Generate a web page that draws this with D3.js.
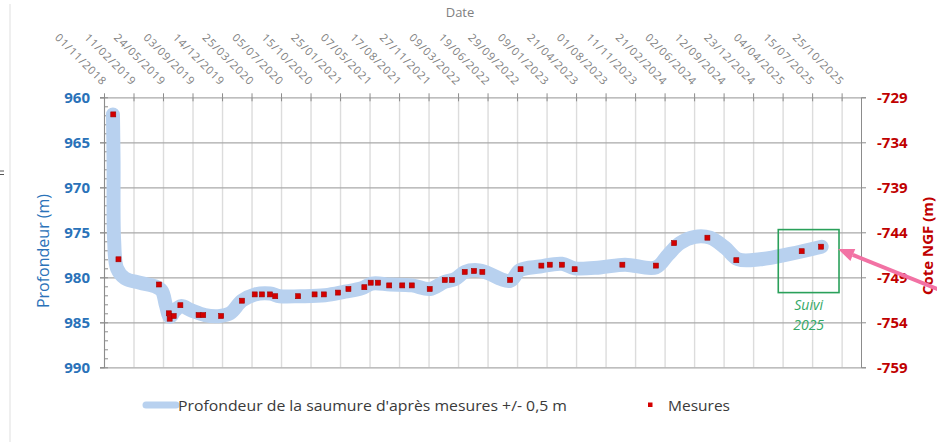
<!DOCTYPE html>
<html><head><meta charset="utf-8">
<script src="https://cdn.jsdelivr.net/npm/d3@7"></script>
<style>body{margin:0;background:#fff}svg{display:block}</style>
</head><body>
<svg id="chart" width="937" height="442"></svg>
<script>
// ---------- DATA ----------
const tickLabels = ["01/11/2018","11/02/2019","24/05/2019","03/09/2019","14/12/2019","25/03/2020","05/07/2020","15/10/2020","25/01/2021","07/05/2021","17/08/2021","27/11/2021","09/03/2022","19/06/2022","29/09/2022","09/01/2023","21/04/2023","01/08/2023","11/11/2023","21/02/2024","02/06/2024","12/09/2024","23/12/2024","04/04/2025","15/07/2025","25/10/2025"];
const leftTicks = [960,965,970,975,980,985,990];
const rightTicks = [-729,-734,-739,-744,-749,-754,-759];

const measureDates = ["2018-12-03","2018-12-21","2019-05-10","2019-06-13","2019-06-16","2019-06-30","2019-07-23","2019-09-24","2019-10-10","2019-12-11","2020-02-21","2020-04-05","2020-04-30","2020-05-28","2020-06-15","2020-09-02","2020-10-29","2020-11-30","2021-01-18","2021-02-23","2021-04-19","2021-05-11","2021-06-05","2021-07-14","2021-08-28","2021-09-30","2021-12-01","2022-01-22","2022-02-16","2022-04-01","2022-05-03","2022-06-01","2022-09-05","2022-10-11","2022-12-22","2023-01-20","2023-03-03","2023-04-16","2023-09-28","2024-01-22","2024-03-25","2024-07-18","2024-10-26","2025-06-09","2025-08-15"];
const measureDepths = [961.9,978.0,980.8,984.0,984.6,984.3,983.1,984.2,984.2,984.3,982.6,981.9,981.9,981.9,982.1,982.1,981.9,981.9,981.7,981.3,981.1,980.6,980.6,980.9,980.9,980.9,981.3,980.3,980.3,979.4,979.3,979.4,980.3,979.1,978.7,978.6,978.6,979.1,978.6,978.7,976.2,975.6,978.1,977.1,976.6];

const bandDates = ["2018-12-02","2018-12-04","2018-12-06","2018-12-16","2019-01-12","2019-03-05","2019-04-26","2019-05-20","2019-06-03","2019-06-17","2019-07-04","2019-07-25","2019-09-01","2019-10-16","2019-12-07","2020-01-11","2020-02-21","2020-04-06","2020-05-28","2020-07-01","2020-09-09","2020-12-04","2021-02-11","2021-04-11","2021-05-15","2021-07-17","2021-10-01","2021-12-02","2022-01-23","2022-02-26","2022-04-02","2022-05-07","2022-06-10","2022-09-05","2022-10-09","2022-12-17","2023-03-03","2023-04-17","2023-07-13","2023-10-07","2024-01-22","2024-03-04","2024-04-14","2024-06-05","2024-07-27","2024-09-17","2024-11-01","2025-01-16","2025-04-30","2025-08-17"];
const bandDepths = [961.9,967.0,975.9,979.0,980.1,980.6,981.0,981.5,983.1,984.4,983.7,983.2,983.7,984.2,984.3,984.0,982.6,981.9,981.8,982.1,982.1,982.0,981.6,981.2,980.7,980.8,980.9,981.3,980.5,980.2,979.4,979.2,979.4,980.4,979.2,978.8,978.5,979.0,978.9,978.6,978.9,977.5,976.2,975.5,975.6,976.7,978.0,978.0,977.4,976.6];

// annotation box (Suivi 2025)
const boxDates = ["2025-03-20","2025-10-16"];
const boxDepths = [974.7, 981.7];

// ---------- SETUP ----------
const svg = d3.select("#chart");
const W = 937, H = 442;
const L = 104, R = 861, T = 97.3, B = 367.3;
const parseTick = d3.timeParse("%d/%m/%Y");
const parseIso = d3.timeParse("%Y-%m-%d");
const tickDates = tickLabels.map(parseTick);

const x = d3.scaleTime().domain([parseIso("2018-11-01"), parseIso("2025-12-31")]).range([L, R]);
const yL = d3.scaleLinear().domain([960, 990]).range([T, B]);
const yR = d3.scaleLinear().domain([-729, -759]).range([T, B]);

const FONT = "'Open Sans', 'Liberation Sans', sans-serif";
const BLUE = "#2a72b9", RED = "#c00000", GRAY = "#7f7f7f";

// left decorative border
svg.append("line").attr("x1",10).attr("x2",10).attr("y1",4).attr("y2",H).attr("stroke","#e4e4e4").attr("stroke-width",1.2);
svg.append("line").attr("x1",0).attr("x2",4).attr("y1",171).attr("y2",171).attr("stroke","#555").attr("stroke-width",1);
svg.append("line").attr("x1",0).attr("x2",4).attr("y1",174.5).attr("y2",174.5).attr("stroke","#555").attr("stroke-width",1);

// vertical gridlines
const vg = svg.append("g").attr("transform",`translate(0,${T})`)
  .call(d3.axisBottom(x).tickValues(tickDates).tickSize(B - T).tickFormat(""));
vg.select(".domain").remove();
vg.selectAll(".tick line").attr("stroke","#dcdcdc").attr("stroke-width",1.4);

// horizontal gridlines
const hg = svg.append("g").attr("transform",`translate(${R},0)`)
  .call(d3.axisLeft(yL).tickValues(leftTicks).tickSize(R - L + 4).tickFormat(""));
hg.select(".domain").remove();
hg.selectAll(".tick line").attr("stroke","#a9a9a9").attr("stroke-width",1.2);

// top date axis ticks (crossing)
const ta = svg.append("g").attr("transform",`translate(0,${T})`)
  .call(d3.axisTop(x).tickValues(tickDates).tickSize(4).tickFormat(""));
ta.select(".domain").remove();
ta.selectAll(".tick line").attr("stroke","#8c8c8c").attr("y2",-4);
ta.selectAll(".tick").append("line").attr("y1",0).attr("y2",4).attr("stroke","#8c8c8c");

// date labels rotated
svg.append("g").selectAll("text").data(tickDates).join("text")
  .attr("transform", d => `translate(${x(d)-2},86) rotate(45)`)
  .attr("text-anchor","end")
  .attr("font-family",FONT).attr("font-size",11).attr("letter-spacing",0.9).attr("fill",GRAY)
  .text((d,i) => tickLabels[i]);

svg.append("text").attr("x",460).attr("y",17).attr("text-anchor","middle")
  .attr("font-family",FONT).attr("font-size",13).attr("fill",GRAY).text("Date");

// left axis
const la = svg.append("g").attr("transform",`translate(${L},0)`)
  .call(d3.axisLeft(yL).tickValues(leftTicks).tickSize(4).tickPadding(10).tickFormat(d => String(d)));
la.select(".domain").attr("stroke","#8c8c8c");
la.selectAll(".tick line").attr("stroke","#8c8c8c");
la.selectAll(".tick text").attr("font-family",FONT).attr("font-size",15).attr("font-weight","bold").attr("fill",BLUE);
// minor ticks (inside)
const lm = svg.append("g").attr("transform",`translate(${L},0)`)
  .call(d3.axisRight(yL).tickValues(d3.range(960, 991, 1)).tickSize(4).tickFormat(""));
lm.select(".domain").remove();
lm.selectAll(".tick line").attr("stroke","#8c8c8c");

svg.append("text").attr("transform","translate(49,251) rotate(-90)").attr("text-anchor","middle")
  .attr("font-family",FONT).attr("font-size",16).attr("fill",BLUE).text("Profondeur (m)");

// right axis
const ra = svg.append("g").attr("transform",`translate(${R},0)`)
  .call(d3.axisRight(yR).tickValues(rightTicks).tickSize(5).tickPadding(11).tickFormat(d => String(d)));
ra.select(".domain").attr("stroke","#8c8c8c");
ra.selectAll(".tick line").attr("stroke","#8c8c8c");
ra.selectAll(".tick text").attr("font-family",FONT).attr("font-size",15).attr("font-weight","bold").attr("fill",RED);

svg.append("text").attr("transform","translate(933,246) rotate(-90)").attr("text-anchor","middle")
  .attr("font-family",FONT).attr("font-size",15).attr("font-weight","bold").attr("fill",RED).text("Cote NGF (m)");

// band
const band = bandDates.map((d,i) => ({date: parseIso(d), depth: bandDepths[i]}));
const line = d3.line().x(d => x(d.date)).y(d => yL(d.depth)).curve(d3.curveCatmullRom.alpha(0.5));
svg.append("path").datum(band).attr("d", line)
  .attr("fill","none").attr("stroke","#b8d1ef").attr("stroke-width",14)
  .attr("stroke-linecap","round").attr("stroke-linejoin","round");

// measurements
const meas = measureDates.map((d,i) => ({date: parseIso(d), depth: measureDepths[i]}));
svg.append("g").selectAll("rect").data(meas).join("rect")
  .attr("x", d => x(d.date) - 2.5).attr("y", d => yL(d.depth) - 2.5)
  .attr("width",5).attr("height",5)
  .attr("fill","#d40000").attr("stroke","#a00000").attr("stroke-width",0.6);

// annotation box
const bx0 = x(parseIso(boxDates[0])), bx1 = x(parseIso(boxDates[1]));
const by0 = yL(boxDepths[0]), by1 = yL(boxDepths[1]);
svg.append("rect").attr("x",bx0).attr("y",by0).attr("width",bx1-bx0).attr("height",by1-by0)
  .attr("fill","none").attr("stroke","#2aa05a").attr("stroke-width",1.6);
svg.append("text").attr("x",(bx0+bx1)/2).attr("y",310).attr("text-anchor","middle")
  .attr("font-family",FONT).attr("font-size",14).attr("font-style","italic").attr("fill","#33a865").text("Suivi");
svg.append("text").attr("x",(bx0+bx1)/2).attr("y",330).attr("text-anchor","middle")
  .attr("font-family",FONT).attr("font-size",14).attr("font-style","italic").attr("fill","#33a865").text("2025");

// pink arrow
const ax0 = 940, ay0 = 290, ax1 = 838, ay1 = 249;
const ang = Math.atan2(ay1 - ay0, ax1 - ax0);
const hl = 16, hw = 6.5;
const bxh = ax1 - hl*Math.cos(ang), byh = ay1 - hl*Math.sin(ang);
svg.append("line").attr("x1",ax0).attr("y1",ay0).attr("x2",bxh).attr("y2",byh)
  .attr("stroke","#f272a4").attr("stroke-width",4);
svg.append("polygon").attr("points",[
  [ax1,ay1],
  [bxh + hw*Math.sin(ang), byh - hw*Math.cos(ang)],
  [bxh - hw*Math.sin(ang), byh + hw*Math.cos(ang)]
].map(p=>p.join(",")).join(" ")).attr("fill","#f272a4");

// legend
svg.append("line").attr("x1",146).attr("x2",176).attr("y1",405).attr("y2",405)
  .attr("stroke","#b8d1ef").attr("stroke-width",7).attr("stroke-linecap","round");
svg.append("text").attr("x",178).attr("y",411).attr("font-family",FONT).attr("font-size",15).attr("fill","#3a3a3a")
  .attr("textLength",389).attr("lengthAdjust","spacingAndGlyphs")
  .text("Profondeur de la saumure d'après mesures +/- 0,5 m");
svg.append("rect").attr("x",648).attr("y",402.5).attr("width",4.5).attr("height",4.5).attr("fill","#d40000");
svg.append("text").attr("x",668).attr("y",411).attr("font-family",FONT).attr("font-size",15).attr("fill","#3a3a3a")
  .attr("textLength",62).attr("lengthAdjust","spacingAndGlyphs").text("Mesures");
</script>
</body></html>
